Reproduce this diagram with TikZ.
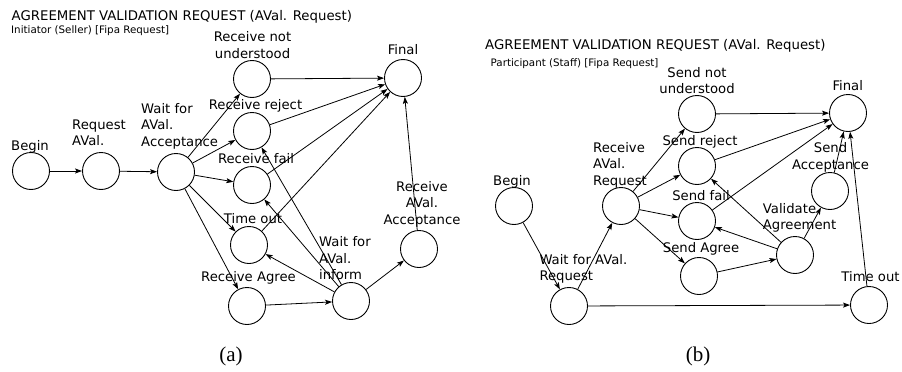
\documentclass[tikz,border=0pt]{standalone}
\usepackage{fontspec}
\setmainfont{DejaVu Sans}
\newfontfamily\capfont{Liberation Serif}
\usetikzlibrary{arrows.meta}

\begin{document}
\begin{tikzpicture}[x=1pt,y=-1pt,
  state/.style={circle, draw, line width=0.9pt, minimum size=37pt, inner sep=0pt},
  tr/.style={-{Stealth[length=7pt,width=5pt,inset=1.5pt]}, line width=0.8pt},
  % multi-line labels: the base anchor sits on the last line's baseline
  lbl/.style={font=\fontsize{13.2}{16.6}\selectfont, inner sep=0pt, anchor=base west, align=left},
  clbl/.style={font=\fontsize{13.2}{16.6}\selectfont, inner sep=0pt, anchor=base, align=center},
  ttl/.style={font=\fontsize{13.3}{15}\selectfont, inner sep=0pt, anchor=base west},
  subttl/.style={font=\fontsize{10.3}{12}\selectfont, inner sep=0pt, anchor=base west},
  capt/.style={font=\capfont\fontsize{21}{24}\selectfont, inner sep=0pt}]

\useasboundingbox[fill=white] (0,0) rectangle (902,372);

% ---------------- (a) initiator side ----------------
\node[ttl] (ta) at (11.5,20.5) {AGREEMENT VALIDATION REQUEST (AVal. Request)};
\node[subttl] (sa) at (11,33) {Initiator (Seller) [Fipa Request]};

\node[state] (aBegin)   at (31,171)  {};
\node[state] (aReq)     at (101,171) {};
\node[state] (aWait)    at (176,172) {};
\node[state] (aNotUnd)  at (252,79)  {};
\node[state] (aFinal)   at (403,78)  {};
\node[state] (aReject)  at (252,131) {};
\node[state] (aFail)    at (252,185) {};
\node[state] (aTime)    at (249,245) {};
\node[state] (aAgree)   at (247,306) {};
\node[state] (aInform)  at (351,301) {};
\node[state] (aAcc)     at (419,249) {};

\node[lbl]  (laBegin)  at (11,150.5) {Begin};
\node[lbl]  (laReq)    at (72,145.6)   {Request\\AVal.};
\node[lbl]  (laWait)   at (141,146.2)  {Wait for\\AVal.\\Acceptance};
\node[clbl] (laNotUnd) at (252.5,58.3) {Receive not\\understood};
\node[clbl] (laFinal)  at (403,54)   {Final};
\node[clbl] (laReject) at (255.5,109) {Receive reject};
\node[clbl] (laFail)   at (256,163)  {Receive fail};
\node[clbl] (laTime)   at (253,223)  {Time out};
\node[clbl] (laAgree)  at (248.5,281.7) {Receive Agree};
\node[lbl]  (laInform) at (319,279.9) {Wait for\\AVal.\\inform};
\node[clbl] (laAcc)    at (422,224.2)  {Receive\\AVal.\\Acceptance};

\draw[tr] (aBegin) -- (aReq);
\draw[tr] (aReq) -- (aWait);
\draw[tr] (aWait) -- (aNotUnd);
\draw[tr] (aWait) -- (aReject);
\draw[tr] (aWait) -- (aFail);
\draw[tr] (aWait) -- (aTime);
\draw[tr] (aWait) -- (aAgree);
\draw[tr] (aNotUnd) -- (aFinal);
\draw[tr] (aReject) -- (aFinal);
\draw[tr] (aFail) -- (aFinal);
\draw[tr] (aTime) -- (aFinal);
\draw[tr] (aAgree) -- (aInform);
\draw[tr] (aInform) -- (aTime);
\draw[tr] (aInform) -- (aFail);
\draw[tr] (aInform) -- (aReject);
\draw[tr] (aInform) -- (aAcc);
\draw[tr] (aAcc) -- (aFinal);

\node[capt] (capa) at (231,356) {(a)};

% ---------------- (b) participant side ----------------
\node[ttl] (tb) at (485,49.3) {AGREEMENT VALIDATION REQUEST (AVal. Request)};
\node[subttl] (sb) at (490.5,66) {Participant (Staff) [Fipa Request]};

\node[state] (bBegin)   at (514,206) {};
\node[state] (bWait)    at (569,306) {};
\node[state] (bRecv)    at (621,206) {};
\node[state] (bNotUnd)  at (697,114) {};
\node[state] (bFinal)   at (848,113) {};
\node[state] (bReject)  at (697,166) {};
\node[state] (bFail)    at (697,221) {};
\node[state] (bAgree)   at (699,276) {};
\node[state] (bValid)   at (795,255) {};
\node[state] (bAcc)     at (830,191) {};
\node[state] (bTime)    at (869,305) {};

\node[clbl] (lbBegin)  at (512,185)   {Begin};
\node[lbl]  (lbWait)   at (539.3,280.9) {Wait for AVal.\\Request};
\node[lbl]  (lbRecv)   at (593,185.5) {Receive\\AVal.\\Request};
\node[clbl] (lbNotUnd) at (697,93.9)  {Send not\\understood};
\node[clbl] (lbFinal)  at (847.7,90)  {Final};
\node[clbl] (lbReject) at (700,145)   {Send reject};
\node[clbl] (lbFail)   at (701,200.7) {Send fail};
\node[clbl] (lbAgree)  at (701,252)   {Send Agree};
\node[lbl]  (lbValid)  at (762.7,229.6) {Validate\\Agreement};
\node[clbl] (lbAcc)    at (830.5,169.3) {Send\\Acceptance};
\node[clbl] (lbTime)   at (870.5,281.7) {Time out};

\draw[tr] (bBegin) -- (bWait);
\draw[tr] (bWait) -- (bRecv);
\draw[tr] (bWait) -- (bTime);
\draw[tr] (bRecv) -- (bNotUnd);
\draw[tr] (bRecv) -- (bReject);
\draw[tr] (bRecv) -- (bFail);
\draw[tr] (bRecv) -- (bAgree);
\draw[tr] (bNotUnd) -- (bFinal);
\draw[tr] (bReject) -- (bFinal);
\draw[tr] (bFail) -- (bFinal);
\draw[tr] (bAgree) -- (bValid);
\draw[tr] (bValid) -- (bFail);
\draw[tr] (bValid) -- (bReject);
\draw[tr] (bValid) -- (bAcc);
\draw[tr] (bAcc) -- (bFinal);
\draw[tr] (bTime) -- (bFinal);

\node[capt] (capb) at (698,356) {(b)};
\end{tikzpicture}
\end{document}
